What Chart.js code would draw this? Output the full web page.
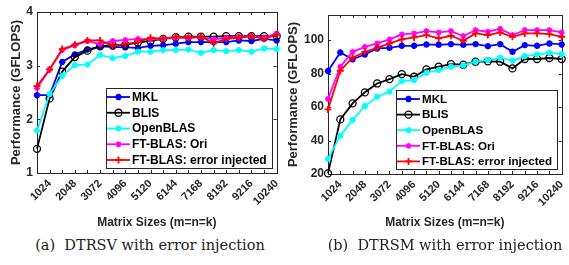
<!DOCTYPE html>
<html>
<head>
<meta charset="utf-8">
<script src="https://cdn.jsdelivr.net/npm/chart.js@4/dist/chart.umd.min.js"></script>
<style>
    html, body { margin: 0; padding: 0; background: #fff; overflow: hidden; }
    body { width: 569px; height: 265px; position: relative; }
    .panel { position: absolute; top: 0; width: 290px; height: 230px; }
    .caption {
        position: absolute; top: 236px; transform: translateX(-50%);
        font-family: "DejaVu Serif", "Liberation Serif", serif; font-size: 14.5px;
        line-height: 18px; color: #222; white-space: nowrap;
    }
</style>
</head>
<body>
<div class="panel" style="left:0"><canvas id="trsvChart"></canvas></div>
<div class="panel" style="left:285px"><canvas id="trsmChart"></canvas></div>
<div class="caption" style="left:150px">(a)&nbsp;&nbsp;DTRSV with error injection</div>
<div class="caption" style="left:445px">(b)&nbsp;&nbsp;DTRSM with error injection</div>

<script>
/* ---------- DATA ---------- */

const sizes = [512, 1024, 1536, 2048, 2560, 3072, 3584, 4096, 4608, 5120,
               5632, 6144, 6656, 7168, 7680, 8192, 8704, 9216, 9728, 10240];
const xLabels = [1024, 2048, 3072, 4096, 5120, 6144, 7168, 8192, 9216, 10240];
const seriesNames = ["MKL", "BLIS", "OpenBLAS", "FT-BLAS: Ori", "FT-BLAS: error injected"];

// (a) DTRSV
const trsvYTicks = [1, 2, 3, 4];
const trsvMkl      = [2.45, 2.45, 3.07, 3.21, 3.30, 3.36, 3.35, 3.34, 3.33, 3.37, 3.38, 3.41, 3.44, 3.44, 3.44, 3.44, 3.47, 3.46, 3.50, 3.47];
const trsvBlis     = [1.45, 2.39, 2.89, 3.16, 3.28, 3.36, 3.38, 3.39, 3.43, 3.46, 3.50, 3.53, 3.54, 3.54, 3.54, 3.55, 3.55, 3.55, 3.55, 3.55];
const trsvOpenblas = [1.79, 2.47, 2.81, 3.01, 3.02, 3.20, 3.14, 3.18, 3.26, 3.26, 3.29, 3.29, 3.30, 3.24, 3.29, 3.27, 3.29, 3.26, 3.32, 3.31];
const trsvFtOri    = [2.58, 2.93, 3.29, 3.38, 3.46, 3.40, 3.46, 3.48, 3.50, 3.49, 3.50, 3.52, 3.52, 3.53, 3.49, 3.52, 3.54, 3.55, 3.52, 3.60];
const trsvFtErr    = [2.62, 2.93, 3.31, 3.39, 3.47, 3.47, 3.37, 3.40, 3.44, 3.52, 3.50, 3.54, 3.52, 3.54, 3.42, 3.50, 3.52, 3.55, 3.50, 3.58];

// (b) DTRSM
const trsmYTicks = [20, 40, 60, 80, 100];
const trsmMkl      = [81.5, 92.6, 88.5, 91.4, 95.0, 95.4, 96.6, 96.6, 97.4, 97.2, 97.6, 97.2, 97.6, 96.4, 97.6, 93.0, 97.0, 96.6, 98.0, 97.4];
const trsmBlis     = [20.4, 52.6, 62.2, 68.8, 74.1, 76.7, 79.7, 78.1, 82.5, 84.1, 85.7, 85.3, 87.1, 87.3, 87.1, 83.1, 88.7, 88.7, 89.3, 88.7];
const trsmOpenblas = [29.0, 42.9, 52.2, 60.6, 66.2, 69.2, 75.5, 76.1, 80.5, 82.1, 84.1, 84.9, 87.1, 88.1, 89.5, 87.7, 90.4, 91.4, 92.4, 91.6];
const trsmFtOri    = [64.8, 84.1, 93.0, 96.0, 98.0, 100.4, 103.4, 104.0, 105.4, 104.6, 105.4, 102.4, 106.0, 105.0, 106.8, 103.0, 106.0, 106.0, 106.0, 104.6];
const trsmFtErr    = [58.6, 81.7, 89.5, 93.0, 95.4, 98.0, 100.4, 101.6, 103.0, 101.0, 102.6, 99.6, 104.0, 103.0, 104.6, 102.0, 104.0, 104.0, 103.6, 102.0];

/* ---------- STYLES ---------- */

const FONT = '"Liberation Sans", Arial, sans-serif';
const TEXT = "#262626";
const looks = [
    { color: "#0000ff", style: "star",   radius: 3.2, fill: "#0000ff",     bw: 2 },
    { color: "#000000", style: "circle", radius: 3.5, fill: "rgba(0,0,0,0)", bw: 1.3 },
    { color: "#00ffff", style: "circle", radius: 2.6, fill: "#00ffff",     bw: 1 },
    { color: "#ff00ff", style: "star",   radius: 3,   fill: "#ff00ff",     bw: 1.5 },
    { color: "#ff0000", style: "cross",  radius: 3.5, fill: "#ff0000",     bw: 1.8 }
];

function drawMarker(ctx, look, x, y) {
    const r = look.radius;
    ctx.save();
    ctx.strokeStyle = look.color;
    ctx.fillStyle = look.fill;
    ctx.lineWidth = look.bw;
    ctx.beginPath();
    if (look.style === "circle") {
        ctx.arc(x, y, r, 0, Math.PI * 2);
        ctx.fill();
        ctx.stroke();
    } else {
        ctx.moveTo(x - r, y); ctx.lineTo(x + r, y);
        ctx.moveTo(x, y - r); ctx.lineTo(x, y + r);
        if (look.style === "star") {
            const d = r * 0.707;
            ctx.moveTo(x - d, y - d); ctx.lineTo(x + d, y + d);
            ctx.moveTo(x - d, y + d); ctx.lineTo(x + d, y - d);
        }
        ctx.stroke();
    }
    ctx.restore();
}

/* ---------- PLUGINS ---------- */

// axes box with inward ticks on all four sides
const boxPlugin = {
    id: "axesBox",
    beforeDatasetsDraw(chart) {
        const { ctx, chartArea: a, scales } = chart;
        ctx.save();
        ctx.strokeStyle = TEXT;
        ctx.lineWidth = 1;
        ctx.strokeRect(Math.round(a.left) + 0.5, Math.round(a.top) + 0.5,
                       Math.round(a.width), Math.round(a.height));
        ctx.beginPath();
        scales.x.ticks.forEach(t => {
            const px = Math.round(scales.x.getPixelForValue(t.value)) + 0.5;
            ctx.moveTo(px, a.bottom); ctx.lineTo(px, a.bottom - 3);
            ctx.moveTo(px, a.top); ctx.lineTo(px, a.top + 3);
        });
        scales.y.ticks.forEach(t => {
            const py = Math.round(scales.y.getPixelForValue(t.value)) + 0.5;
            ctx.moveTo(a.left, py); ctx.lineTo(a.left + 3, py);
            ctx.moveTo(a.right, py); ctx.lineTo(a.right - 3, py);
        });
        ctx.stroke();
        ctx.restore();
    }
};

// legend box in the lower right corner of the plot area
const legendPlugin = {
    id: "cornerLegend",
    afterDatasetsDraw(chart, args, opts) {
        const { ctx, chartArea: a } = chart;
        ctx.save();
        ctx.font = "bold " + opts.fontSize + "px " + FONT;
        const textW = Math.max(...seriesNames.map(n => ctx.measureText(n).width));
        const w = 26 + textW + 5;
        const h = 17 + opts.rowH * 4;
        const x0 = Math.round(a.right - 5 - w);
        const y0 = Math.round(a.bottom - 5 - h);
        ctx.fillStyle = "#fff";
        ctx.fillRect(x0, y0, w, h);
        ctx.strokeStyle = TEXT;
        ctx.lineWidth = 1;
        ctx.strokeRect(x0 + 0.5, y0 + 0.5, Math.round(w), Math.round(h));
        seriesNames.forEach((name, i) => {
            const look = looks[i];
            const y = y0 + 9 + i * opts.rowH;
            ctx.strokeStyle = look.color;
            ctx.lineWidth = 1.8;
            ctx.beginPath();
            ctx.moveTo(x0 + 1, y); ctx.lineTo(x0 + 24, y);
            ctx.stroke();
            drawMarker(ctx, look, x0 + 12.5, y);
            ctx.fillStyle = "#000";
            ctx.textBaseline = "middle";
            ctx.textAlign = "left";
            ctx.fillText(name, x0 + 26, y + 0.5);
        });
        ctx.restore();
    }
};

/* ---------- CHARTS ---------- */

function makeChart(id, series, yTicks, yMin, yMax, layout) {
    const datasets = series.map((vals, i) => ({
        label: seriesNames[i],
        data: sizes.map((s, j) => ({ x: s, y: vals[j] })),
        borderColor: looks[i].color,
        backgroundColor: looks[i].color,
        borderWidth: 1.8,
        pointStyle: looks[i].style,
        pointRadius: looks[i].radius,
        pointBorderWidth: looks[i].bw,
        pointBackgroundColor: looks[i].fill,
        pointBorderColor: looks[i].color,
        tension: 0,
        clip: false,
        order: series.length - i
    }));

    return new Chart(document.getElementById(id), {
        type: "line",
        data: { datasets },
        plugins: [boxPlugin, legendPlugin],
        options: {
            responsive: true,
            maintainAspectRatio: false,
            animation: false,
            events: [],
            layout: { padding: layout.padding },
            plugins: {
                legend: { display: false },
                tooltip: { enabled: false },
                cornerLegend: { fontSize: layout.legendFont, rowH: layout.rowH }
            },
            scales: {
                x: {
                    type: "linear",
                    min: 512,
                    max: 10240,
                    afterBuildTicks: s => { s.ticks = sizes.map(v => ({ value: v })); },
                    afterFit: s => { s.height = layout.xHeight; },
                    grid: { display: false, drawTicks: false },
                    border: { display: false },
                    ticks: {
                        autoSkip: false,
                        minRotation: 45,
                        maxRotation: 45,
                        padding: 4,
                        color: TEXT,
                        font: { family: FONT, size: 11, weight: "bold" },
                        callback: v => xLabels.includes(v) ? String(v) : ""
                    },
                    title: {
                        display: true,
                        text: "Matrix Sizes (m=n=k)",
                        color: TEXT,
                        padding: 0,
                        font: { family: FONT, size: 12, weight: "bold" }
                    }
                },
                y: {
                    min: yMin,
                    max: yMax,
                    afterBuildTicks: s => { s.ticks = yTicks.map(v => ({ value: v })); },
                    afterFit: s => { s.width = layout.yWidth; },
                    grid: { display: false, drawTicks: false },
                    border: { display: false },
                    ticks: {
                        padding: 4,
                        color: TEXT,
                        font: { family: FONT, size: 12, weight: "bold" }
                    },
                    title: {
                        display: true,
                        text: "Performance (GFLOPS)",
                        color: TEXT,
                        padding: 0,
                        font: { family: FONT, size: 13, weight: "bold" }
                    }
                }
            }
        }
    });
}

makeChart("trsvChart",
    [trsvMkl, trsvBlis, trsvOpenblas, trsvFtOri, trsvFtErr],
    trsvYTicks, 1, 4,
    { padding: { left: 9, top: 12, right: 7, bottom: 0 }, yWidth: 28, xHeight: 57, legendFont: 12, rowH: 15.75 });

makeChart("trsmChart",
    [trsmMkl, trsmBlis, trsmOpenblas, trsmFtOri, trsmFtErr],
    trsmYTicks, 20, 115,
    { padding: { left: 1, top: 15, right: 9, bottom: 0 }, yWidth: 42, xHeight: 56, legendFont: 11.6, rowH: 15.6 });
</script>
</body>
</html>
